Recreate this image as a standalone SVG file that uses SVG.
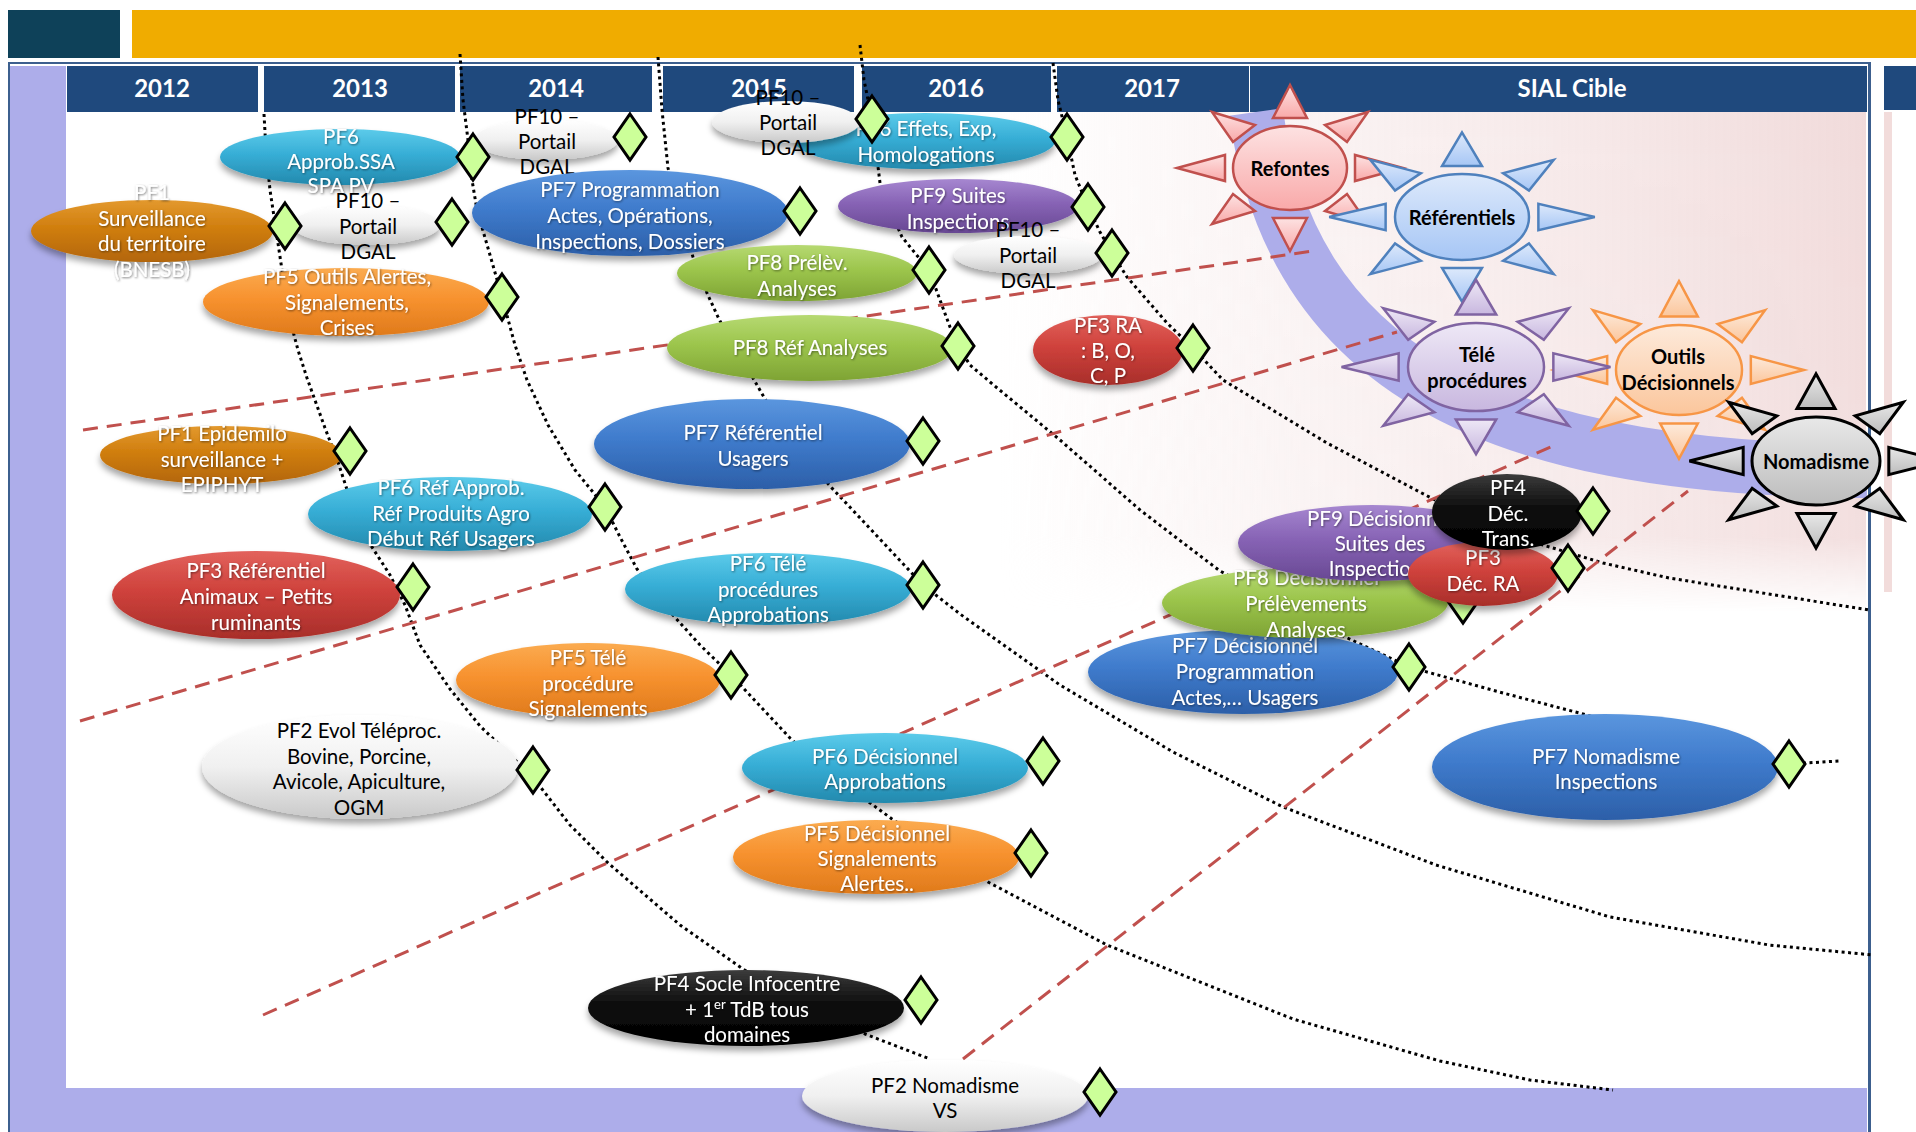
<svg xmlns="http://www.w3.org/2000/svg" xmlns:xlink="http://www.w3.org/1999/xlink" width="1916" height="1132" viewBox="0 0 1916 1132">
<style>
.yr{font-family:Lato,"Liberation Sans",sans-serif;font-weight:700;font-size:24px;fill:#fff;text-anchor:middle}
.hd{fill:#1f497d}
.t{font-family:Lato,"Open Sans","Liberation Sans",sans-serif;font-size:20.5px;text-anchor:middle}
.w{fill:#fff;filter:url(#ts)}
.k{fill:#000}
.sun{font-family:Lato,"Liberation Sans",sans-serif;font-weight:700;font-size:20px;fill:#000;text-anchor:middle}
.dot{fill:none;stroke:#000;stroke-width:3;stroke-dasharray:3 3.5;stroke-linejoin:round}
.dash{fill:none;stroke:#c0504d;stroke-width:3;stroke-dasharray:15 9}
.ms{fill:#ccff99;stroke:#000;stroke-width:3}
.sh{filter:url(#ds)}
</style>
<defs>
<filter id="ds" x="-10%" y="-20%" width="120%" height="160%"><feDropShadow dx="0" dy="5" stdDeviation="3" flood-color="#000" flood-opacity="0.35"/></filter>
<filter id="ts" x="-10%" y="-30%" width="120%" height="160%"><feDropShadow dx="0.8" dy="1" stdDeviation="1.2" flood-color="#000" flood-opacity="0.5"/></filter>
<linearGradient id="gCy" x1="0" y1="0" x2="0" y2="1"><stop offset="0" stop-color="#5ccbea"/><stop offset="0.45" stop-color="#37aed6"/><stop offset="1" stop-color="#2389ad"/></linearGradient>
<linearGradient id="gBl" x1="0" y1="0" x2="0" y2="1"><stop offset="0" stop-color="#5b96de"/><stop offset="0.45" stop-color="#3f7bcc"/><stop offset="1" stop-color="#2c5fa8"/></linearGradient>
<linearGradient id="gOr" x1="0" y1="0" x2="0" y2="1"><stop offset="0" stop-color="#fbab50"/><stop offset="0.45" stop-color="#f7922f"/><stop offset="1" stop-color="#df7a1b"/></linearGradient>
<linearGradient id="gBr" x1="0" y1="0" x2="0" y2="1"><stop offset="0" stop-color="#e3992e"/><stop offset="0.45" stop-color="#d07e0e"/><stop offset="1" stop-color="#b36608"/></linearGradient>
<linearGradient id="gGr" x1="0" y1="0" x2="0" y2="1"><stop offset="0" stop-color="#b6d972"/><stop offset="0.45" stop-color="#9cc54c"/><stop offset="1" stop-color="#7ea334"/></linearGradient>
<linearGradient id="gRd" x1="0" y1="0" x2="0" y2="1"><stop offset="0" stop-color="#e2625c"/><stop offset="0.45" stop-color="#cf423c"/><stop offset="1" stop-color="#a82e2a"/></linearGradient>
<linearGradient id="gPu" x1="0" y1="0" x2="0" y2="1"><stop offset="0" stop-color="#a687d0"/><stop offset="0.45" stop-color="#8763b5"/><stop offset="1" stop-color="#684893"/></linearGradient>
<linearGradient id="gBk" x1="0" y1="0" x2="0" y2="1"><stop offset="0" stop-color="#3c3c3c"/><stop offset="0.45" stop-color="#0d0d0d"/><stop offset="1" stop-color="#000"/></linearGradient>
<linearGradient id="gWh" x1="0" y1="0" x2="0" y2="1"><stop offset="0" stop-color="#ffffff"/><stop offset="0.5" stop-color="#f0f0f0"/><stop offset="1" stop-color="#c9c9c9"/></linearGradient>
<linearGradient id="gPink" x1="0" y1="0" x2="1" y2="0"><stop offset="0" stop-color="#f8eded" stop-opacity="0"/><stop offset="0.35" stop-color="#f8eeee" stop-opacity="0.7"/><stop offset="1" stop-color="#f1dbdb"/></linearGradient>
<linearGradient id="gPinkV" x1="0" y1="0" x2="0" y2="1"><stop offset="0" stop-color="#fff" stop-opacity="1"/><stop offset="0.85" stop-color="#fff" stop-opacity="0.9"/><stop offset="1" stop-color="#fff" stop-opacity="0"/></linearGradient>
<mask id="pinkMask"><rect x="1000" y="112" width="870" height="500" fill="url(#gPinkV)"/></mask>
<linearGradient id="sRef" x1="0" y1="0" x2="0" y2="1"><stop offset="0" stop-color="#fde2e2"/><stop offset="1" stop-color="#f9a9a9"/></linearGradient>
<linearGradient id="sRefer" x1="0" y1="0" x2="0" y2="1"><stop offset="0" stop-color="#dde9fb"/><stop offset="1" stop-color="#a6c6f5"/></linearGradient>
<linearGradient id="sTel" x1="0" y1="0" x2="0" y2="1"><stop offset="0" stop-color="#eee8f6"/><stop offset="1" stop-color="#c8b7df"/></linearGradient>
<linearGradient id="sOut" x1="0" y1="0" x2="0" y2="1"><stop offset="0" stop-color="#fdeadb"/><stop offset="1" stop-color="#fbc69c"/></linearGradient>
<linearGradient id="sNom" x1="0" y1="0" x2="0" y2="1"><stop offset="0" stop-color="#e8e8e8"/><stop offset="1" stop-color="#bcbcbc"/></linearGradient>
<polygon id="dm" points="0,-23 16,0 0,23 -16,0"/>
<g id="rays">
<polygon vector-effect="non-scaling-stroke" points="0,-83 -17,-50 17,-50"/>
<polygon vector-effect="non-scaling-stroke" points="0,83 -17,50 17,50"/>
<polygon vector-effect="non-scaling-stroke" points="-113,0 -65,-13 -65,13"/>
<polygon vector-effect="non-scaling-stroke" points="113,0 65,-13 65,13"/>
<polygon vector-effect="non-scaling-stroke" points="-78,-56 -35,-43 -57,-26"/>
<polygon vector-effect="non-scaling-stroke" points="78,-56 35,-43 57,-26"/>
<polygon vector-effect="non-scaling-stroke" points="-78,56 -35,43 -57,26"/>
<polygon vector-effect="non-scaling-stroke" points="78,56 35,43 57,26"/>
</g>
</defs>

<rect width="1916" height="1132" fill="#fff"/>
<!-- top title bars -->
<rect x="8" y="10" width="112" height="48" fill="#0e4159"/>
<rect x="132" y="10" width="1784" height="48" fill="#f0ac00"/>
<!-- frame -->
<rect x="1000" y="112" width="866" height="500" fill="url(#gPink)" mask="url(#pinkMask)"/>
<rect x="1884" y="112" width="8" height="480" fill="#f2dcdb"/>
<rect x="10" y="66" width="56" height="1066" fill="#adadea"/>
<rect x="10" y="1088" width="1857" height="44" fill="#adadea"/>
<line x1="8" y1="63" x2="1870" y2="63" stroke="#3c5f8e" stroke-width="2"/>
<line x1="9" y1="62" x2="9" y2="1132" stroke="#3c5f8e" stroke-width="2"/>
<line x1="1869.5" y1="62" x2="1869.5" y2="1132" stroke="#3c5f8e" stroke-width="3"/>
<!-- header -->
<g id="header">
<rect class="hd" x="67" y="66" width="191" height="46"/>
<rect class="hd" x="264" y="66" width="191" height="46"/>
<rect class="hd" x="460" y="66" width="192" height="46"/>
<rect class="hd" x="663" y="66" width="191" height="46"/>
<rect class="hd" x="862" y="66" width="189" height="46"/>
<rect class="hd" x="1057" y="66" width="192" height="46"/>
<rect class="hd" x="1250" y="66" width="617" height="46"/>
<rect class="hd" x="1884" y="66" width="32" height="44"/>
<text class="yr" x="162" y="97">2012</text>
<text class="yr" x="360" y="97">2013</text>
<text class="yr" x="556" y="97">2014</text>
<text class="yr" x="759" y="97">2015</text>
<text class="yr" x="956" y="97">2016</text>
<text class="yr" x="1152" y="97">2017</text>
<text class="yr" x="1572" y="97">SIAL Cible</text>
</g>
<!-- lavender sweep -->
<path d="M1256,112 C1290,360 1480,470 1867,471" fill="none" stroke="#adadea" stroke-width="54"/>

<g id="connectors">
<path class="dot" d="M264,114 L266,150 L270,190 L276,230 L282,270 L290,320 L298,350 L307,378 L325,428 L338,462 L352,505 L370,544 L390,575 L405,605 L420,645 L450,689 L480,726 L510,755 L535,780 L570,825 L607,862 L680,925 L743,969 L800,1005 L865,1034 L930,1059"/>
<path class="dot" d="M460,54 L463,100 L468,140 L472,180 L477,210 L490,255 L502,297 L515,345 L527,380 L548,425 L575,470 L605,507 L620,537 L637,569 L655,592 L672,614 L700,645 L731,675 L760,706 L790,738 L830,775 L873,805 L892,819 L940,851 L988,882 L1107,945 L1293,1019 L1440,1061 L1530,1080 L1613,1090"/>
<path class="dot" d="M658,57 L662,110 L668,168 L680,215 L693,257 L707,293 L718,317 L735,350 L753,378 L765,399 L790,440 L830,486 L877,536 L923,585 L960,614 L1060,685 L1173,752 L1283,807 L1436,865 L1610,917 L1769,945 L1873,955"/>
<path class="dot" d="M860,45 L864,80 L872,119 L876,150 L880,183 L890,210 L902,237 L915,253 L929,270 L940,300 L950,327 L958,346 L970,365 L990,382 L1060,440 L1140,510 L1220,571 L1320,625 L1409,667 L1503,693 L1583,714 L1700,748 L1789,764 L1839,761"/>
<path class="dot" d="M1053,63 L1058,100 L1067,137 L1075,175 L1088,207 L1100,232 L1112,253 L1127,277 L1147,300 L1167,323 L1193,348 L1207,363 L1223,380 L1327,443 L1433,499 L1500,530 L1543,545 L1603,563 L1669,578 L1869,610"/>
<path class="dash" d="M83,430 L1313,251"/>
<path class="dash" d="M80,721 L1397,332"/>
<path class="dash" d="M263,1015 L1553,446"/>
<path class="dash" d="M963,1059 L1688,491"/>
</g>

<g id="pf10-2013"><ellipse class="sh" cx="366" cy="225" rx="74" ry="20" fill="url(#gWh)"/><text class="t k" y="208"><tspan x="368">PF10 –</tspan><tspan x="368" dy="25.5">Portail</tspan><tspan x="368" dy="25.5">DGAL</tspan></text><use href="#dm" class="ms" x="452" y="222"/></g>
<g id="pf1-surv"><ellipse class="sh" cx="152" cy="231" rx="121" ry="31" fill="url(#gBr)"/><text class="t w" y="200"><tspan x="152">PF1</tspan><tspan x="152" dy="25.5">Surveillance</tspan><tspan x="152" dy="25.5">du territoire</tspan><tspan x="152" dy="25.5">(BNESB)</tspan></text><use href="#dm" class="ms" x="285" y="226"/></g>
<g id="pf10-2014"><ellipse class="sh" cx="546" cy="140" rx="72" ry="20" fill="url(#gWh)"/><text class="t k" y="124"><tspan x="547">PF10 –</tspan><tspan x="547" dy="25">Portail</tspan><tspan x="547" dy="25">DGAL</tspan></text><use href="#dm" class="ms" x="630" y="137"/></g>
<g id="pf6-approb"><ellipse class="sh" cx="340" cy="157" rx="120" ry="28" fill="url(#gCy)"/><text class="t w" y="144"><tspan x="341">PF6</tspan><tspan x="341" dy="24.5">Approb.SSA</tspan><tspan x="341" dy="24.5">SPA PV</tspan></text><use href="#dm" class="ms" x="473" y="157"/></g>
<g id="pf5-outils"><ellipse class="sh" cx="346" cy="302" rx="143" ry="34" fill="url(#gOr)"/><text class="t w" y="284"><tspan x="347">PF5 Outils Alertes,</tspan><tspan x="347" dy="25.5">Signalements,</tspan><tspan x="347" dy="25.5">Crises</tspan></text><use href="#dm" class="ms" x="502" y="297"/></g>
<g id="pf7-prog"><ellipse class="sh" cx="630" cy="213" rx="158" ry="43" fill="url(#gBl)"/><text class="t w" y="197"><tspan x="630">PF7 Programmation</tspan><tspan x="630" dy="26">Actes, Opérations,</tspan><tspan x="630" dy="26">Inspections, Dossiers</tspan></text><use href="#dm" class="ms" x="800" y="211"/></g>
<g id="pf6-effets"><ellipse class="sh" cx="925" cy="141" rx="130" ry="28" fill="url(#gCy)"/><text class="t w" y="136"><tspan x="926">PF6 Effets, Exp,</tspan><tspan x="926" dy="26">Homologations</tspan></text><use href="#dm" class="ms" x="1067" y="137"/></g>
<g id="pf10-2015"><ellipse class="sh" cx="786" cy="122" rx="74" ry="21" fill="url(#gWh)"/><text class="t k" y="105"><tspan x="788">PF10 –</tspan><tspan x="788" dy="25">Portail</tspan><tspan x="788" dy="25">DGAL</tspan></text><use href="#dm" class="ms" x="872" y="119"/></g>
<g id="pf8-prelev"><ellipse class="sh" cx="797" cy="273" rx="120" ry="28" fill="url(#gGr)"/><text class="t w" y="270"><tspan x="797">PF8 Prélèv.</tspan><tspan x="797" dy="26">Analyses</tspan></text><use href="#dm" class="ms" x="929" y="270"/></g>
<g id="pf9-suites"><ellipse class="sh" cx="958" cy="206" rx="120" ry="27" fill="url(#gPu)"/><text class="t w" y="203"><tspan x="958">PF9 Suites</tspan><tspan x="958" dy="26">Inspections</tspan></text><use href="#dm" class="ms" x="1088" y="207"/></g>
<g id="pf10-2016"><ellipse class="sh" cx="1028" cy="255" rx="74" ry="19" fill="url(#gWh)"/><text class="t k" y="237"><tspan x="1028">PF10 –</tspan><tspan x="1028" dy="26">Portail</tspan><tspan x="1028" dy="25">DGAL</tspan></text><use href="#dm" class="ms" x="1112" y="253"/></g>
<g id="pf8-ref"><ellipse class="sh" cx="810" cy="348" rx="143" ry="33" fill="url(#gGr)"/><text class="t w" x="810" y="355">PF8 Réf Analyses</text><use href="#dm" class="ms" x="958" y="346"/></g>
<g id="pf3-ra"><ellipse class="sh" cx="1108" cy="350" rx="75" ry="35" fill="url(#gRd)"/><text class="t w" y="333"><tspan x="1108">PF3 RA</tspan><tspan x="1108" dy="25">: B, O,</tspan><tspan x="1108" dy="25">C, P</tspan></text><use href="#dm" class="ms" x="1193" y="348"/></g>
<g id="pf1-epi"><ellipse class="sh" cx="221" cy="455" rx="121" ry="29" fill="url(#gBr)"/><text class="t w" y="441"><tspan x="222">PF1 Epidemilo</tspan><tspan x="222" dy="25.5">surveillance +</tspan><tspan x="222" dy="25.5">EPIPHYT</tspan></text><use href="#dm" class="ms" x="350" y="451"/></g>
<g id="pf6-refapp"><ellipse class="sh" cx="450" cy="514" rx="142" ry="37" fill="url(#gCy)"/><text class="t w" y="495"><tspan x="451">PF6 Réf Approb.</tspan><tspan x="451" dy="25.5">Réf Produits Agro</tspan><tspan x="451" dy="25.5">Début Réf Usagers</tspan></text><use href="#dm" class="ms" x="605" y="507"/></g>
<g id="pf7-refusag"><ellipse class="sh" cx="752" cy="444" rx="158" ry="45" fill="url(#gBl)"/><text class="t w" y="440"><tspan x="753">PF7 Référentiel</tspan><tspan x="753" dy="26">Usagers</tspan></text><use href="#dm" class="ms" x="923" y="441"/></g>
<g id="pf3-refanim"><ellipse class="sh" cx="256" cy="595" rx="144" ry="44" fill="url(#gRd)"/><text class="t w" y="578"><tspan x="256">PF3 Référentiel</tspan><tspan x="256" dy="26">Animaux – Petits</tspan><tspan x="256" dy="26">ruminants</tspan></text><use href="#dm" class="ms" x="413" y="587"/></g>
<g id="pf6-tele"><ellipse class="sh" cx="768" cy="589" rx="143" ry="36" fill="url(#gCy)"/><text class="t w" y="571"><tspan x="768">PF6 Télé</tspan><tspan x="768" dy="25.5">procédures</tspan><tspan x="768" dy="25.5">Approbations</tspan></text><use href="#dm" class="ms" x="923" y="585"/></g>
<g id="pf5-tele"><ellipse class="sh" cx="588" cy="680" rx="132" ry="37" fill="url(#gOr)"/><text class="t w" y="665"><tspan x="588">PF5 Télé</tspan><tspan x="588" dy="25.5">procédure</tspan><tspan x="588" dy="25.5">Signalements</tspan></text><use href="#dm" class="ms" x="731" y="675"/></g>
<g id="pf2-evol"><ellipse class="sh" cx="360" cy="767" rx="158" ry="52" fill="url(#gWh)"/><text class="t k" y="738"><tspan x="359">PF2 Evol Téléproc.</tspan><tspan x="359" dy="25.5">Bovine, Porcine,</tspan><tspan x="359" dy="25.5">Avicole, Apiculture,</tspan><tspan x="359" dy="25.5">OGM</tspan></text><use href="#dm" class="ms" x="533" y="770"/></g>
<g id="pf6-dec"><ellipse class="sh" cx="885" cy="768" rx="143" ry="35" fill="url(#gCy)"/><text class="t w" y="764"><tspan x="885">PF6 Décisionnel</tspan><tspan x="885" dy="25">Approbations</tspan></text><use href="#dm" class="ms" x="1043" y="761"/></g>
<g id="pf5-dec"><ellipse class="sh" cx="876" cy="857" rx="143" ry="37" fill="url(#gOr)"/><text class="t w" y="841"><tspan x="877">PF5 Décisionnel</tspan><tspan x="877" dy="25">Signalements</tspan><tspan x="877" dy="25">Alertes..</tspan></text><use href="#dm" class="ms" x="1031" y="853"/></g>
<g id="pf4-socle"><ellipse class="sh" cx="746" cy="1008" rx="158" ry="38" fill="url(#gBk)"/><text class="t w" y="991"><tspan x="747">PF4 Socle Infocentre</tspan><tspan x="747" dy="26">+ 1<tspan font-size="13" dy="-8">er</tspan><tspan dy="8"> TdB tous</tspan></tspan><tspan x="747" dy="25">domaines</tspan></text><use href="#dm" class="ms" x="921" y="1000"/></g>
<g id="pf2-nomad"><ellipse class="sh" cx="945" cy="1096" rx="143" ry="36" fill="url(#gWh)"/><text class="t k" y="1093"><tspan x="945">PF2 Nomadisme</tspan><tspan x="945" dy="25">VS</tspan></text><use href="#dm" class="ms" x="1100" y="1092"/></g>
<g id="pf7-nomad"><ellipse class="sh" cx="1605" cy="767" rx="173" ry="53" fill="url(#gBl)"/><text class="t w" y="764"><tspan x="1606">PF7 Nomadisme</tspan><tspan x="1606" dy="25">Inspections</tspan></text><use href="#dm" class="ms" x="1789" y="764"/></g>
<g id="pf7-decprog"><ellipse class="sh" cx="1243" cy="672" rx="155" ry="42" fill="url(#gBl)"/><text class="t w" y="653"><tspan x="1245">PF7 Décisionnel</tspan><tspan x="1245" dy="26">Programmation</tspan><tspan x="1245" dy="26">Actes,… Usagers</tspan></text><use href="#dm" class="ms" x="1409" y="667"/></g>
<g id="pf8-dec"><ellipse class="sh" cx="1305" cy="603" rx="143" ry="35" fill="url(#gGr)"/><text class="t w" y="585"><tspan x="1306">PF8 Décisionnel</tspan><tspan x="1306" dy="26">Prélèvements</tspan><tspan x="1306" dy="26">Analyses</tspan></text><use href="#dm" class="ms" x="1463" y="600"/></g>
<g id="pf9-dec"><ellipse class="sh" cx="1372" cy="543" rx="134" ry="38" fill="url(#gPu)"/><text class="t w" y="526"><tspan x="1380">PF9 Décisionnel</tspan><tspan x="1380" dy="25">Suites des</tspan><tspan x="1380" dy="25">Inspections</tspan></text></g>
<g id="pf3-decra"><ellipse class="sh" cx="1483" cy="574" rx="75" ry="32" fill="url(#gRd)"/><text class="t w" y="565"><tspan x="1483">PF3</tspan><tspan x="1483" dy="26">Déc. RA</tspan></text><use href="#dm" class="ms" x="1568" y="568"/></g>
<g id="pf4-dectrans"><ellipse class="sh" cx="1507" cy="512" rx="75" ry="38" fill="url(#gBk)"/><text class="t w" y="495"><tspan x="1508">PF4</tspan><tspan x="1508" dy="25.5">Déc.</tspan><tspan x="1508" dy="25.5">Trans.</tspan></text><use href="#dm" class="ms" x="1593" y="511"/></g>

<g id="sun-refontes"><use href="#rays" transform="translate(1290,168)" fill="url(#sRef)" stroke="#c0504d" stroke-width="2.5"/><ellipse cx="1290" cy="168" rx="57" ry="42" fill="url(#sRef)" stroke="#c0504d" stroke-width="2.5"/><text class="sun" x="1290" y="176">Refontes</text></g>
<g id="sun-referentiels"><use href="#rays" transform="translate(1462,217) scale(1.175,1.02)" fill="url(#sRefer)" stroke="#4f81bd" stroke-width="2.5"/><ellipse cx="1462" cy="217" rx="67" ry="43" fill="url(#sRefer)" stroke="#4f81bd" stroke-width="2.5"/><text class="sun" x="1462" y="225">Référentiels</text></g>
<g id="sun-outils"><use href="#rays" transform="translate(1679,370) scale(1.105,1.07)" fill="url(#sOut)" stroke="#f79646" stroke-width="2.5"/><ellipse cx="1679" cy="370" rx="63" ry="45" fill="url(#sOut)" stroke="#f79646" stroke-width="2.5"/><text class="sun" y="364"><tspan x="1678">Outils</tspan><tspan x="1678" dy="26">Décisionnels</tspan></text></g>
<g id="sun-tele"><use href="#rays" transform="translate(1476,367) scale(1.19,1.05)" fill="url(#sTel)" stroke="#8064a2" stroke-width="2.5"/><ellipse cx="1476" cy="367" rx="68" ry="44" fill="url(#sTel)" stroke="#8064a2" stroke-width="2.5"/><text class="sun" y="362"><tspan x="1477">Télé</tspan><tspan x="1477" dy="26">procédures</tspan></text></g>
<g id="sun-nomadisme"><use href="#rays" transform="translate(1816,461) scale(1.12,1.05)" fill="url(#sNom)" stroke="#000" stroke-width="3"/><ellipse cx="1816" cy="461" rx="64" ry="44" fill="url(#sNom)" stroke="#000" stroke-width="3"/><text class="sun" x="1816" y="469">Nomadisme</text></g>
</svg>
